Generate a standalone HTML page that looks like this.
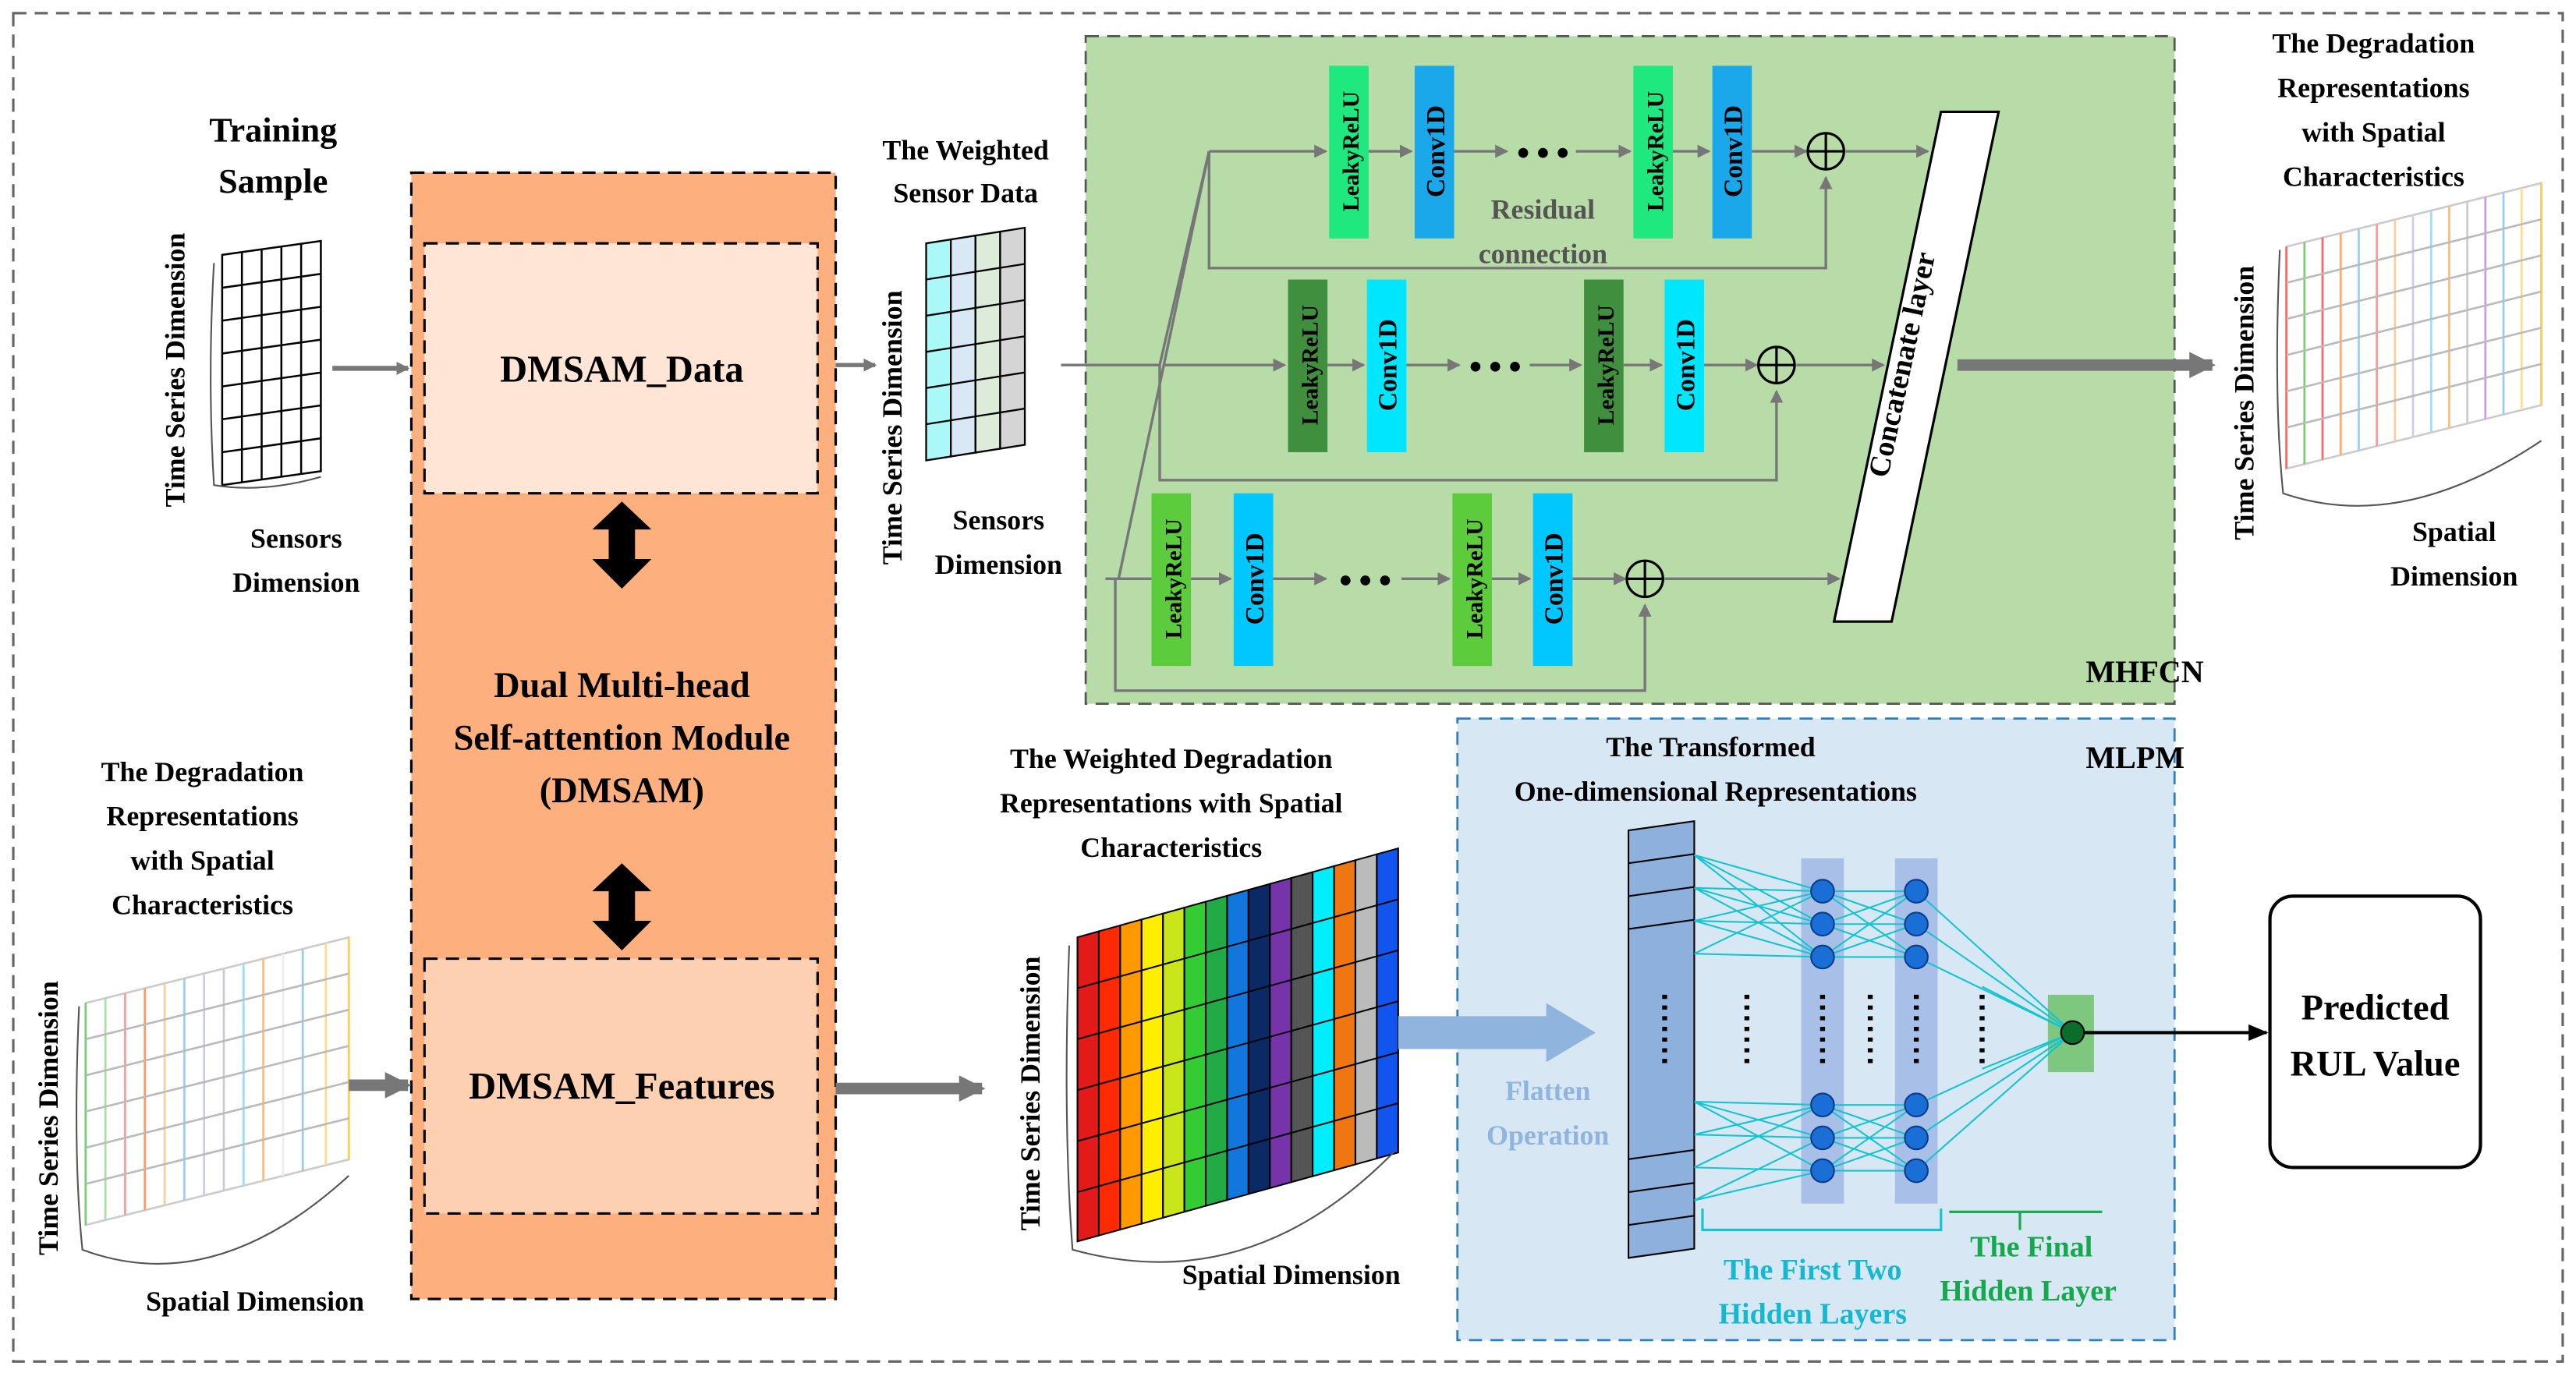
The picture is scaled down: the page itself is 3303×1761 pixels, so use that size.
<!DOCTYPE html>
<html><head><meta charset="utf-8"><style>
html,body{margin:0;padding:0;background:#fff;}
svg{display:block;font-family:"Liberation Serif","DejaVu Serif",serif;}
svg text{font-family:"Liberation Serif","DejaVu Serif",serif;font-weight:bold;fill:#000;}
</style></head><body>
<svg width="3303" height="1761" viewBox="0 0 1566 835" xmlns="http://www.w3.org/2000/svg" font-family="Liberation Serif, DejaVu Serif, serif" font-weight="bold">
<defs>
<marker id="ga" markerWidth="8" markerHeight="8" refX="7" refY="4" orient="auto" markerUnits="userSpaceOnUse"><path d="M0,0 L8,4 L0,8 z" fill="#777"/></marker>
<marker id="gb" markerWidth="16" markerHeight="16" refX="14" refY="8" orient="auto" markerUnits="userSpaceOnUse"><path d="M0,0 L16,8 L0,16 z" fill="#777"/></marker>
<marker id="ka" markerWidth="12" markerHeight="12" refX="11" refY="6" orient="auto" markerUnits="userSpaceOnUse"><path d="M0,1 L12,6 L0,11 z" fill="#000"/></marker>
</defs>
<rect x="8" y="8" width="1550" height="820" fill="none" stroke="#666" stroke-width="1.5" stroke-dasharray="8,5"/>

<rect x="250" y="105" width="258" height="685" fill="#fdb07e" stroke="#000" stroke-width="1.5" stroke-dasharray="8,5"/>
<rect x="258" y="148" width="239" height="152" fill="#fee5d5" stroke="#000" stroke-width="1.5" stroke-dasharray="8,5"/>
<rect x="258" y="583" width="239" height="155" fill="#fdd0b2" stroke="#000" stroke-width="1.5" stroke-dasharray="8,5"/>
<text x="378" y="232" font-size="23" text-anchor="middle">DMSAM_Data</text>
<text x="378" y="668" font-size="23" text-anchor="middle">DMSAM_Features</text>
<text x="378" y="424" font-size="22" text-anchor="middle">Dual Multi-head</text>
<text x="378" y="456" font-size="22" text-anchor="middle">Self-attention Module</text>
<text x="378" y="488" font-size="22" text-anchor="middle">(DMSAM)</text>
<path d="M378,305 L396,322 L386,322 L386,340 L396,340 L378,358 L360,340 L370,340 L370,322 L360,322 z" fill="#000"/>
<path d="M378,525 L396,542 L386,542 L386,560 L396,560 L378,578 L360,560 L370,560 L370,542 L360,542 z" fill="#000"/>

<text x="166" y="86" font-size="21" text-anchor="middle">Training</text>
<text x="166" y="117" font-size="21" text-anchor="middle">Sample</text>
<g transform="translate(135,155) skewY(-8)">
<g stroke="#000" stroke-width="1.2" fill="#fff">
<rect x="0" y="0" width="60" height="140"/>
<path d="M12,0V140M24,0V140M36,0V140M48,0V140M0,20H60M0,40H60M0,60H60M0,80H60M0,100H60M0,120H60"/>
</g></g>
<path d="M130,160 Q126,230 130,295 Q160,300 195,290" fill="none" stroke="#555"/>
<text transform="translate(112,225) rotate(-90)" font-size="17" text-anchor="middle">Time Series Dimension</text>
<text x="180" y="333" font-size="17" text-anchor="middle">Sensors</text>
<text x="180" y="360" font-size="17" text-anchor="middle">Dimension</text>
<line x1="202" y1="224" x2="248" y2="224" stroke="#777" stroke-width="3" marker-end="url(#ga)"/>

<text x="123" y="475" font-size="17" text-anchor="middle">The Degradation</text>
<text x="123" y="502" font-size="17" text-anchor="middle">Representations</text>
<text x="123" y="529" font-size="17" text-anchor="middle">with Spatial</text>
<text x="123" y="556" font-size="17" text-anchor="middle">Characteristics</text>
<g transform="translate(52,610) skewY(-14)" stroke-width="1.3" fill="none">
<rect x="0" y="0" width="160" height="135" stroke="#ccc"/>
<path d="M0,0V135" stroke="#7c7"/><path d="M12,0V135" stroke="#aaddaa"/><path d="M24,0V135" stroke="#f99"/><path d="M36,0V135" stroke="#f96"/><path d="M48,0V135" stroke="#fc9"/><path d="M60,0V135" stroke="#9cf"/><path d="M72,0V135" stroke="#cce"/><path d="M84,0V135" stroke="#ccc"/><path d="M96,0V135" stroke="#9df"/><path d="M108,0V135" stroke="#fb7"/><path d="M120,0V135" stroke="#eee"/><path d="M132,0V135" stroke="#9ce"/><path d="M146,0V135" stroke="#fd8"/><path d="M160,0V135" stroke="#fc5"/>
<path d="M0,22H160M0,44H160M0,66H160M0,88H160M0,110H160" stroke="#bbb"/>
</g>
<path d="M48,612 Q44,700 50,760 Q130,790 212,715" fill="none" stroke="#555"/>
<text transform="translate(35,680) rotate(-90)" font-size="17" text-anchor="middle">Time Series Dimension</text>
<text x="155" y="797" font-size="17" text-anchor="middle">Spatial Dimension</text>
<line x1="212" y1="660" x2="248" y2="660" stroke="#777" stroke-width="7" marker-end="url(#gb)"/>

<line x1="508" y1="222" x2="532" y2="222" stroke="#777" stroke-width="2.5" marker-end="url(#ga)"/>
<text x="587" y="97" font-size="17" text-anchor="middle">The Weighted</text>
<text x="587" y="123" font-size="17" text-anchor="middle">Sensor Data</text>
<g transform="translate(563,148) skewY(-9)" stroke="#000" stroke-width="1.1">
<rect x="0" y="0" width="15" height="132" fill="#aaf8f8"/><rect x="15" y="0" width="15" height="132" fill="#d8e8f4"/><rect x="30" y="0" width="15" height="132" fill="#dcecd8"/><rect x="45" y="0" width="15" height="132" fill="#d5d5d5"/>
<path d="M0,22H60M0,44H60M0,66H60M0,88H60M0,110H60" fill="none"/>
</g>
<text transform="translate(548,260) rotate(-90)" font-size="17" text-anchor="middle">Time Series Dimension</text>
<text x="607" y="322" font-size="17" text-anchor="middle">Sensors</text>
<text x="607" y="349" font-size="17" text-anchor="middle">Dimension</text>

<rect x="660" y="22" width="662" height="406" fill="#b7dca8" stroke="#555" stroke-width="1.3" stroke-dasharray="8,5"/>
<text x="1268" y="415" font-size="19">MHFCN</text>
<g stroke="#777" stroke-width="1.6" fill="none">
<path d="M645,222 H705 M705,222 L735,92"/>
<path d="M680,352 L735,92"/>
<path d="M672,352 H700"/>
<path d="M705,222 V292 H1080 V238" marker-end="url(#ga)"/>
<path d="M735,92 V163 H1110 V108" marker-end="url(#ga)"/>
<path d="M678,352 V420 H1000 V368" marker-end="url(#ga)"/>
<path d="M735,92 H806" marker-end="url(#ga)"/>
<path d="M707,222 H781" marker-end="url(#ga)"/>
<path d="M832,92 H858" marker-end="url(#ga)"/><path d="M884,92 H916" marker-end="url(#ga)"/><path d="M958,92 H991" marker-end="url(#ga)"/><path d="M1017,92 H1039" marker-end="url(#ga)"/><path d="M1065,92 H1098" marker-end="url(#ga)"/><path d="M1122,92 H1172" marker-end="url(#ga)"/>
<path d="M807,222 H829" marker-end="url(#ga)"/><path d="M855,222 H887" marker-end="url(#ga)"/><path d="M930,222 H961" marker-end="url(#ga)"/><path d="M987,222 H1010" marker-end="url(#ga)"/><path d="M1036,222 H1068" marker-end="url(#ga)"/><path d="M1092,222 H1145" marker-end="url(#ga)"/>
<path d="M724,352 H748" marker-end="url(#ga)"/><path d="M774,352 H806" marker-end="url(#ga)"/><path d="M852,352 H881" marker-end="url(#ga)"/><path d="M907,352 H930" marker-end="url(#ga)"/><path d="M956,352 H988" marker-end="url(#ga)"/><path d="M1012,352 H1118" marker-end="url(#ga)"/>
</g>
<g>
<rect x="808" y="40" width="24" height="105" fill="#1ee87e"/><text transform="translate(826,92) rotate(-90)" text-anchor="middle" font-size="14">LeakyReLU</text>
<rect x="860" y="40" width="24" height="105" fill="#1aa8ea"/><text transform="translate(878,92) rotate(-90)" text-anchor="middle" font-size="16">Conv1D</text>
<rect x="993" y="40" width="24" height="105" fill="#1ee87e"/><text transform="translate(1011,92) rotate(-90)" text-anchor="middle" font-size="14">LeakyReLU</text>
<rect x="1041" y="40" width="24" height="105" fill="#1aa8ea"/><text transform="translate(1059,92) rotate(-90)" text-anchor="middle" font-size="16">Conv1D</text>
<rect x="783" y="170" width="24" height="105" fill="#3f8f3f"/><text transform="translate(801,222) rotate(-90)" text-anchor="middle" font-size="14">LeakyReLU</text>
<rect x="831" y="170" width="24" height="105" fill="#00e6ff"/><text transform="translate(849,222) rotate(-90)" text-anchor="middle" font-size="16">Conv1D</text>
<rect x="963" y="170" width="24" height="105" fill="#3f8f3f"/><text transform="translate(981,222) rotate(-90)" text-anchor="middle" font-size="14">LeakyReLU</text>
<rect x="1012" y="170" width="24" height="105" fill="#00e6ff"/><text transform="translate(1030,222) rotate(-90)" text-anchor="middle" font-size="16">Conv1D</text>
<rect x="700" y="300" width="24" height="105" fill="#5ccc3c"/><text transform="translate(718,352) rotate(-90)" text-anchor="middle" font-size="14">LeakyReLU</text>
<rect x="750" y="300" width="24" height="105" fill="#00c8ff"/><text transform="translate(768,352) rotate(-90)" text-anchor="middle" font-size="16">Conv1D</text>
<rect x="883" y="300" width="24" height="105" fill="#5ccc3c"/><text transform="translate(901,352) rotate(-90)" text-anchor="middle" font-size="14">LeakyReLU</text>
<rect x="932" y="300" width="24" height="105" fill="#00c8ff"/><text transform="translate(950,352) rotate(-90)" text-anchor="middle" font-size="16">Conv1D</text>
</g>
<g fill="#000"><circle cx="926" cy="93" r="3"/><circle cx="938" cy="93" r="3"/><circle cx="950" cy="93" r="3"/>
<circle cx="897" cy="223" r="3"/><circle cx="909" cy="223" r="3"/><circle cx="921" cy="223" r="3"/>
<circle cx="818" cy="353" r="3"/><circle cx="830" cy="353" r="3"/><circle cx="842" cy="353" r="3"/></g>
<g fill="none" stroke="#000" stroke-width="1.5">
<circle cx="1110" cy="92" r="11"/><path d="M1099,92H1121M1110,81V103"/>
<circle cx="1080" cy="222" r="11"/><path d="M1069,222H1091M1080,211V233"/>
<circle cx="1000" cy="352" r="11"/><path d="M989,352H1011M1000,341V363"/>
</g>
<text x="938" y="133" font-size="17" text-anchor="middle" style="fill:#555">Residual</text>
<text x="938" y="160" font-size="17" text-anchor="middle" style="fill:#555">connection</text>
<polygon points="1180,68 1215,68 1150,378 1115,378" fill="#fff" stroke="#000" stroke-width="1.5"/>
<text transform="translate(1162,223) rotate(-78)" font-size="18" text-anchor="middle">Concatenate layer</text>
<line x1="1190" y1="222" x2="1345" y2="222" stroke="#777" stroke-width="7" marker-end="url(#gb)"/>

<text x="1443" y="32" font-size="17" text-anchor="middle">The Degradation</text>
<text x="1443" y="59" font-size="17" text-anchor="middle">Representations</text>
<text x="1443" y="86" font-size="17" text-anchor="middle">with Spatial</text>
<text x="1443" y="113" font-size="17" text-anchor="middle">Characteristics</text>
<g transform="translate(1390,150) skewY(-14)" stroke-width="1.3" fill="none">
<rect x="0" y="0" width="155" height="135" stroke="#ccc"/>
<path d="M0,0V135" stroke="#f66"/><path d="M11,0V135" stroke="#7c7"/><path d="M22,0V135" stroke="#f66"/><path d="M33,0V135" stroke="#fa6"/><path d="M44,0V135" stroke="#9cf"/><path d="M55,0V135" stroke="#f99"/><path d="M66,0V135" stroke="#fc9"/><path d="M77,0V135" stroke="#cce"/><path d="M88,0V135" stroke="#9df"/><path d="M99,0V135" stroke="#fb7"/><path d="M110,0V135" stroke="#ccc"/><path d="M121,0V135" stroke="#c9e"/><path d="M132,0V135" stroke="#9ce"/><path d="M143,0V135" stroke="#fd8"/><path d="M155,0V135" stroke="#fc5"/>
<path d="M0,22H155M0,44H155M0,66H155M0,88H155M0,110H155" stroke="#bbb"/>
</g>
<path d="M1386,152 Q1382,240 1388,300 Q1460,325 1545,268" fill="none" stroke="#555"/>
<text transform="translate(1370,245) rotate(-90)" font-size="17" text-anchor="middle">Time Series Dimension</text>
<text x="1492" y="329" font-size="17" text-anchor="middle">Spatial</text>
<text x="1492" y="356" font-size="17" text-anchor="middle">Dimension</text>

<line x1="508" y1="662" x2="597" y2="662" stroke="#777" stroke-width="7" marker-end="url(#gb)"/>
<text x="712" y="467" font-size="17" text-anchor="middle">The Weighted Degradation</text>
<text x="712" y="494" font-size="17" text-anchor="middle">Representations with Spatial</text>
<text x="712" y="521" font-size="17" text-anchor="middle">Characteristics</text>
<g transform="translate(655,570) skewY(-15.5)" stroke="#000" stroke-width="1">
<rect x="0" y="0" width="13" height="185" fill="#e31a1a"/><rect x="13" y="0" width="13" height="185" fill="#ff2a00"/><rect x="26" y="0" width="13" height="185" fill="#ff9900"/><rect x="39" y="0" width="13" height="185" fill="#ffee00"/><rect x="52" y="0" width="13" height="185" fill="#c8e619"/><rect x="65" y="0" width="13" height="185" fill="#33cc33"/><rect x="78" y="0" width="13" height="185" fill="#22aa44"/><rect x="91" y="0" width="13" height="185" fill="#1177dd"/><rect x="104" y="0" width="13" height="185" fill="#0a2a66"/><rect x="117" y="0" width="13" height="185" fill="#7733aa"/><rect x="130" y="0" width="13" height="185" fill="#555"/><rect x="143" y="0" width="13" height="185" fill="#00eeff"/><rect x="156" y="0" width="13" height="185" fill="#ee7711"/><rect x="169" y="0" width="13" height="185" fill="#bbbbbb"/><rect x="182" y="0" width="13" height="185" fill="#1155ee"/>
<path d="M0,31H195M0,62H195M0,93H195M0,124H195M0,155H195" fill="none"/>
</g>
<path d="M650,575 Q646,680 652,760 Q760,790 848,700" fill="none" stroke="#555"/>
<text transform="translate(632,665) rotate(-90)" font-size="17" text-anchor="middle">Time Series Dimension</text>
<text x="785" y="781" font-size="17" text-anchor="middle">Spatial Dimension</text>

<rect x="886" y="437" width="436" height="378" fill="#d8e7f4" stroke="#2a7fbf" stroke-width="1.3" stroke-dasharray="8,5"/>
<text x="1268" y="467" font-size="19">MLPM</text>
<text x="1040" y="460" font-size="17" text-anchor="middle">The Transformed</text>
<text x="1043" y="487" font-size="17" text-anchor="middle">One-dimensional Representations</text>
<polygon points="850,618 940,618 940,610 970,628 940,646 940,638 850,638" fill="#8fb4dd"/>
<text x="941" y="669" font-size="17" text-anchor="middle" style="fill:#8fb4dd">Flatten</text>
<text x="941" y="696" font-size="17" text-anchor="middle" style="fill:#8fb4dd">Operation</text>
<g transform="translate(990,505) skewY(-8)"><rect x="0" y="0" width="40" height="260" fill="#8db0dc" stroke="#000"/>
<path d="M0,20H40M0,40H40M0,60H40M0,200H40M0,220H40M0,240H40" stroke="#000"/></g>
<rect x="1095" y="522" width="26" height="210" fill="#a8c0e8"/>
<rect x="1152" y="522" width="26" height="210" fill="#a8c0e8"/>
<rect x="1245" y="605" width="28" height="47" fill="#7ec77e"/>
<g stroke="#16c4d0" stroke-width="1">
<path d="M1030,520L1108,542M1030,520L1108,562M1030,520L1108,582M1030,540L1108,542M1030,540L1108,562M1030,540L1108,582M1030,560L1108,542M1030,560L1108,562M1030,560L1108,582M1030,580L1108,542M1030,580L1108,582"/>
<path d="M1030,670L1108,672M1030,670L1108,692M1030,670L1108,712M1030,690L1108,672M1030,690L1108,692M1030,710L1108,712M1030,710L1108,672M1030,730L1108,712M1030,730L1108,692"/>
<path d="M1108,542L1165,542M1108,542L1165,562M1108,542L1165,582M1108,562L1165,542M1108,562L1165,582M1108,582L1165,542M1108,582L1165,562M1108,582L1165,582M1108,562L1165,562"/>
<path d="M1108,672L1165,672M1108,672L1165,692M1108,672L1165,712M1108,692L1165,672M1108,692L1165,712M1108,712L1165,672M1108,712L1165,692M1108,712L1165,712M1108,692L1165,692"/>
<path d="M1165,542L1260,628M1165,562L1260,628M1165,582L1260,628M1165,672L1260,628M1165,692L1260,628M1165,712L1260,628M1205,600L1260,628M1205,650L1260,628"/>
</g>
<g fill="#1a6fd6" stroke="#0a3c8a" stroke-width="1">
<circle cx="1108" cy="542" r="7"/><circle cx="1108" cy="562" r="7"/><circle cx="1108" cy="582" r="7"/><circle cx="1108" cy="672" r="7"/><circle cx="1108" cy="692" r="7"/><circle cx="1108" cy="712" r="7"/>
<circle cx="1165" cy="542" r="7"/><circle cx="1165" cy="562" r="7"/><circle cx="1165" cy="582" r="7"/><circle cx="1165" cy="672" r="7"/><circle cx="1165" cy="692" r="7"/><circle cx="1165" cy="712" r="7"/>
</g>
<circle cx="1260" cy="628" r="7" fill="#0a6e2a" stroke="#000"/>
<path d="M1012,605V650M1062,605V650M1108,605V650M1137,605V650M1165,605V650M1205,605V650" stroke="#000" stroke-width="3" stroke-dasharray="2.5,4"/>
<line x1="1267" y1="628" x2="1378" y2="628" stroke="#000" stroke-width="2" marker-end="url(#ka)"/>
<path d="M1035,735V748H1180V735" fill="none" stroke="#16c4d0" stroke-width="1.5"/>
<path d="M1185,737H1278" fill="none" stroke="#16a84c" stroke-width="1.5"/><path d="M1228,737V748" stroke="#16a84c" stroke-width="1.5"/>
<text x="1102" y="778" font-size="18" text-anchor="middle" style="fill:#16b8d0">The First Two</text>
<text x="1102" y="805" font-size="18" text-anchor="middle" style="fill:#16b8d0">Hidden Layers</text>
<text x="1235" y="764" font-size="18" text-anchor="middle" style="fill:#16a84c">The Final</text>
<text x="1233" y="791" font-size="18" text-anchor="middle" style="fill:#16a84c">Hidden Layer</text>

<rect x="1380" y="545" width="128" height="165" rx="14" fill="#fff" stroke="#000" stroke-width="2"/>
<text x="1444" y="620" font-size="22" text-anchor="middle">Predicted</text>
<text x="1444" y="654" font-size="22" text-anchor="middle">RUL Value</text>
</svg>
</body></html>
